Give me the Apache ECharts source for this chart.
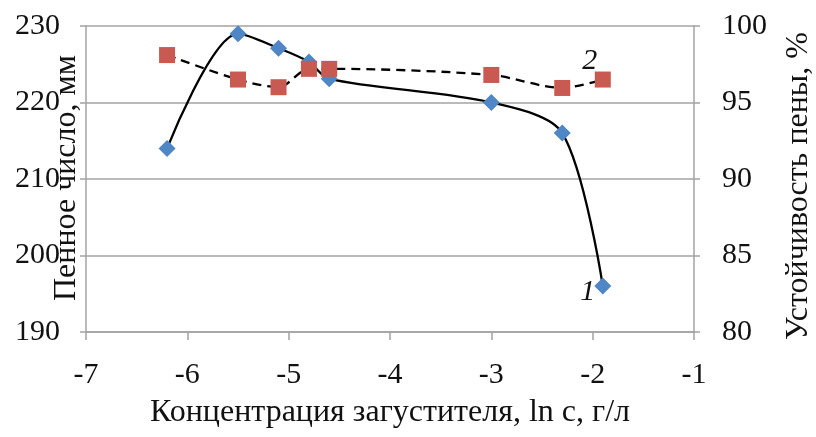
<!DOCTYPE html>
<html>
<head>
<meta charset="utf-8">
<script src="https://cdn.jsdelivr.net/npm/echarts@6/dist/echarts.min.js"></script>
<style>html,body{margin:0;padding:0;background:#fff;}#c{width:816px;height:437px;}</style>
</head>
<body>
<div id="c"></div>
<script>
const xValues = [-6.2, -5.5, -5.1, -4.8, -4.6, -3.0, -2.3, -1.9];
const foamNumber = [214, 229, 227.1, 225.3, 223.1, 220, 216, 196];
const foamStability = [98.1, 96.5, 96.0, 97.2, 97.2, 96.8, 95.95, 96.5];
const xTitle = 'Концентрация загустителя, ln c, г/л';
const leftTitle = 'Пенное число, мм';
const rightTitle = 'Устойчивость пены, %';
const seriesLabels = ['1', '2'];

const FONT = 'Liberation Serif';
const gray = '#a3a3a3';
const chart = echarts.init(document.getElementById('c'), null, {renderer: 'canvas'});

const labelStyle = {fontFamily: FONT, fontStyle: 'italic', fontSize: 30, color: '#111'};
const s1 = xValues.map((x, i) => {
  const d = {value: [x, foamNumber[i]]};
  if (i === xValues.length - 1) {
    d.label = Object.assign({show: true, formatter: seriesLabels[0], position: 'inside', offset: [-15, 6]}, labelStyle);
  }
  return d;
});
const s2 = xValues.map((x, i) => {
  const d = {value: [x, foamStability[i]]};
  if (i === xValues.length - 1) {
    d.label = Object.assign({show: true, formatter: seriesLabels[1], position: 'inside', offset: [-13, -18]}, labelStyle);
  }
  return d;
});

const tickFont = {fontFamily: FONT, fontSize: 30, color: '#111'};
chart.setOption({
  animation: false,
  grid: {left: 86, right: 122, top: 26, bottom: 105, containLabel: false},
  xAxis: {
    type: 'value', min: -7, max: -1, interval: 1,
    axisLine: {show: true, onZero: false, lineStyle: {color: gray, width: 1.5}},
    axisTick: {show: true, length: 8, lineStyle: {color: gray, width: 1.5}},
    splitLine: {show: false},
    axisLabel: Object.assign({margin: 28}, tickFont)
  },
  yAxis: [
    {
      type: 'value', min: 190, max: 230, interval: 10, position: 'left',
      axisLine: {show: true, lineStyle: {color: gray, width: 1.5}},
      axisTick: {show: true, length: 6, lineStyle: {color: gray, width: 1.5}},
      splitLine: {show: true, lineStyle: {color: gray, width: 1.5}},
      axisLabel: Object.assign({margin: 26}, tickFont)
    },
    {
      type: 'value', min: 80, max: 100, interval: 5, position: 'right',
      axisLine: {show: true, lineStyle: {color: gray, width: 1.5}},
      axisTick: {show: true, length: 6, lineStyle: {color: gray, width: 1.5}},
      splitLine: {show: false},
      axisLabel: Object.assign({margin: 28}, tickFont)
    }
  ],
  graphic: [
    {type: 'text', x: 390, y: 413, style: {text: xTitle, font: '32px "Liberation Serif"', fill: '#111', textAlign: 'center', textVerticalAlign: 'middle'}},
    {type: 'text', x: 67, y: 178, rotation: Math.PI / 2, style: {text: leftTitle, font: '32px "Liberation Serif"', fill: '#111', textAlign: 'center', textVerticalAlign: 'middle'}},
    {type: 'text', x: 799, y: 186, rotation: Math.PI / 2, style: {text: rightTitle, font: '32px "Liberation Serif"', fill: '#111', textAlign: 'center', textVerticalAlign: 'middle'}}
  ],
  series: [
    {
      type: 'line', yAxisIndex: 0, data: s1, smooth: 0.3,
      lineStyle: {color: '#000', width: 2.3},
      symbol: 'diamond', symbolSize: 17,
      itemStyle: {color: '#4f86c6'},
      z: 3
    },
    {
      type: 'line', yAxisIndex: 1, data: s2, smooth: 0.3,
      lineStyle: {color: '#000', width: 2.3, type: [9, 6]},
      symbol: 'rect', symbolSize: 16,
      itemStyle: {color: '#c85a52'},
      z: 4
    }
  ]
});
</script>
</body>
</html>
